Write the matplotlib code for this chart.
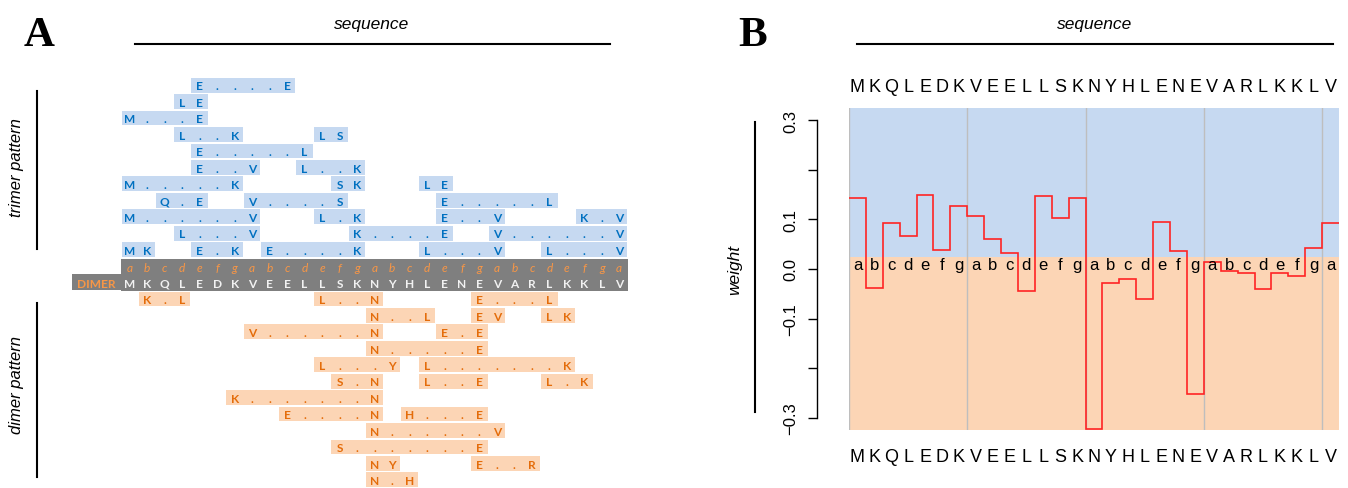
import numpy as np
import matplotlib
matplotlib.use("Agg")
import matplotlib.pyplot as plt
from matplotlib.patches import Rectangle
from matplotlib.lines import Line2D
import matplotlib.transforms as mtransforms

# ---------------- data ----------------
sequence = list("MKQLEDKVEELLSKNYHLENEVARLKKLV")
heptad = list("abcdefg") * 4 + ["a"]

# trimer pattern rows (top to bottom): (first residue index, last residue index)
trimer_rows = [
    [(4, 9)],
    [(3, 4)],
    [(0, 4)],
    [(3, 6), (11, 12)],
    [(4, 10)],
    [(4, 7), (10, 13)],
    [(0, 6), (12, 13), (17, 18)],
    [(2, 4), (7, 12), (18, 24)],
    [(0, 7), (11, 13), (18, 21), (26, 28)],
    [(3, 7), (13, 18), (21, 28)],
    [(0, 1), (4, 6), (8, 13), (17, 21), (24, 28)],
]

# dimer pattern rows (top to bottom)
dimer_rows = [
    [(1, 3), (11, 14), (20, 24)],
    [(14, 17), (20, 21), (24, 25)],
    [(7, 14), (18, 20)],
    [(14, 20)],
    [(11, 15), (17, 25)],
    [(12, 14), (17, 20), (24, 26)],
    [(6, 14)],
    [(9, 14), (16, 20)],
    [(14, 21)],
    [(12, 20)],
    [(14, 15), (20, 23)],
    [(14, 16)],
]

# panel B weights per residue
weights = [0.143, -0.038, 0.093, 0.067, 0.149, 0.039, 0.127,
           0.107, 0.061, 0.033, -0.045, 0.147, 0.102, 0.144,
           -0.323, -0.029, -0.021, -0.060, 0.094, 0.036, -0.252,
           0.015, -0.004, -0.009, -0.041, -0.008, -0.014, 0.043,
           0.093]
ytick_vals = [-0.3, -0.2, -0.1, 0.0, 0.1, 0.2, 0.3]
ytick_labels = ["\u22120.3", "", "\u22120.1", "0.0", "0.1", "", "0.3"]

# ---------------- style ----------------
W, H = 1348, 489
BLUE_BOX = "#C6D9F1"
BLUE_TXT = "#0070C0"
ORG_BOX = "#FCD5B5"
ORG_TXT = "#E46C0A"
HEP_TXT = "#F79646"
GRAY = "#7F7F7F"
BOX_FONT = "Lato"
BOX_FS = 8.6

fig = plt.figure(figsize=(W / 100, H / 100), dpi=100)


def fx(x):
    return x / W


def fy(y):
    return 1 - y / H


def fline(x1, y1, x2, y2, lw=1.5):
    fig.add_artist(Line2D([fx(x1), fx(x2)], [fy(y1), fy(y2)],
                          transform=fig.transFigure, color="black", lw=lw))


# ---------------- panel A ----------------
n = len(sequence)
axA = fig.add_axes([fx(121), fy(489), fx(628) - fx(121), fy(78) - fy(489)])
axA.set_xlim(0, n)
axA.set_ylim(25, 0)
axA.axis("off")


def draw_box_row(row, spans, fc, tc):
    for s, e in spans:
        axA.add_patch(Rectangle((s + 0.03, row + 0.05), e - s + 1 - 0.06, 0.9,
                                fc=fc, ec="none"))
        for i in range(s, e + 1):
            ch = sequence[i] if i in (s, e) else "."
            axA.text(i + 0.5, row + 0.76, ch, ha="center", va="baseline",
                     fontsize=BOX_FS, fontweight="bold", color=tc,
                     family=BOX_FONT)


for r, spans in enumerate(trimer_rows):
    draw_box_row(r, spans, BLUE_BOX, BLUE_TXT)

band_row = len(trimer_rows)  # 11
axA.add_patch(Rectangle((0, band_row + 0.06), n, 1.94, fc=GRAY, ec="none"))
axA.add_patch(Rectangle((-2.8, band_row + 1.0), 2.8, 0.96, fc=GRAY, ec="none",
                        clip_on=False))
for i in range(n):
    axA.text(i + 0.5, band_row + 0.78, heptad[i], ha="center", va="baseline",
             fontsize=BOX_FS, style="italic", color=HEP_TXT, family=BOX_FONT)
    axA.text(i + 0.5, band_row + 1.76, sequence[i], ha="center", va="baseline",
             fontsize=BOX_FS, fontweight="bold", color="#F2F2F2",
             family=BOX_FONT)
axA.text(-1.4, band_row + 1.76, "DIMER", ha="center", va="baseline",
         fontsize=8.6, fontweight="bold", color=HEP_TXT, family=BOX_FONT,
         clip_on=False)

for r, spans in enumerate(dimer_rows):
    draw_box_row(band_row + 2 + r, spans, ORG_BOX, ORG_TXT)

fig.text(fx(372), fy(25), "sequence", ha="center", va="center", fontsize=12.5,
         style="italic", family="Liberation Sans")
fline(135, 45, 610, 45)

fig.text(fx(17), fy(168), "trimer pattern", ha="center", va="center",
         rotation=90, fontsize=12, style="italic", family="Liberation Sans")
fline(37, 92, 37, 250)
fig.text(fx(17), fy(385), "dimer pattern", ha="center", va="center",
         rotation=90, fontsize=12, style="italic", family="Liberation Sans")
fline(37, 304, 37, 478)

fig.text(fx(39), fy(46), "A", ha="center", va="baseline", fontsize=31,
         fontweight="bold", family="Liberation Serif")

# ---------------- panel B ----------------
axB = fig.add_axes([fx(849), fy(431), fx(1339) - fx(849), fy(109) - fy(431)])
axB.set_xlim(0, n)
ylo, yhi, split = -0.325, 0.325, 0.024
axB.set_ylim(ylo, yhi)
axB.axhspan(split, yhi, color=BLUE_BOX, lw=0, zorder=0)
axB.axhspan(ylo, split, color=ORG_BOX, lw=0, zorder=0)
for xv in range(0, n, 7):
    axB.axvline(xv, color="#BEBEBE", lw=1.0, zorder=1)
axB.stairs(weights, edges=np.arange(n + 1), baseline=None, color="#FF2424",
           lw=1.2, zorder=3)

for i in range(n):
    axB.text(i + 0.5, -0.001, heptad[i], ha="center", va="baseline",
             fontsize=12, family="Liberation Sans", zorder=4)

trans = mtransforms.blended_transform_factory(axB.transData, axB.transAxes)
for i in range(n):
    axB.text(i + 0.5, 1.0528, sequence[i], ha="center", va="baseline",
             fontsize=13, family="Liberation Sans", transform=trans,
             clip_on=False)
    axB.text(i + 0.5, -0.0963, sequence[i], ha="center", va="baseline",
             fontsize=13, family="Liberation Sans", transform=trans,
             clip_on=False)

for s in ("top", "right", "bottom"):
    axB.spines[s].set_visible(False)
axB.spines["left"].set_position(("outward", 23))
axB.spines["left"].set_bounds(-0.3, 0.3)
axB.spines["left"].set_linewidth(1.0)
axB.set_xticks([])
axB.set_yticks(ytick_vals)
axB.set_yticklabels(ytick_labels, rotation=90, va="center",
                    family="Liberation Sans", fontsize=12)
axB.tick_params(axis="y", length=6.5, width=1.0, pad=7)

fig.text(fx(1095), fy(25), "sequence", ha="center", va="center", fontsize=12.5,
         style="italic", family="Liberation Sans")
fline(857, 45, 1333, 45)
fig.text(fx(735), fy(270), "weight", ha="center", va="center", rotation=90,
         fontsize=12.5, style="italic", family="Liberation Sans")
fline(755, 123, 755, 413)

fig.text(fx(753), fy(46), "B", ha="center", va="baseline", fontsize=31,
         fontweight="bold", family="Liberation Serif")

fig.savefig("out.png", dpi=100)
